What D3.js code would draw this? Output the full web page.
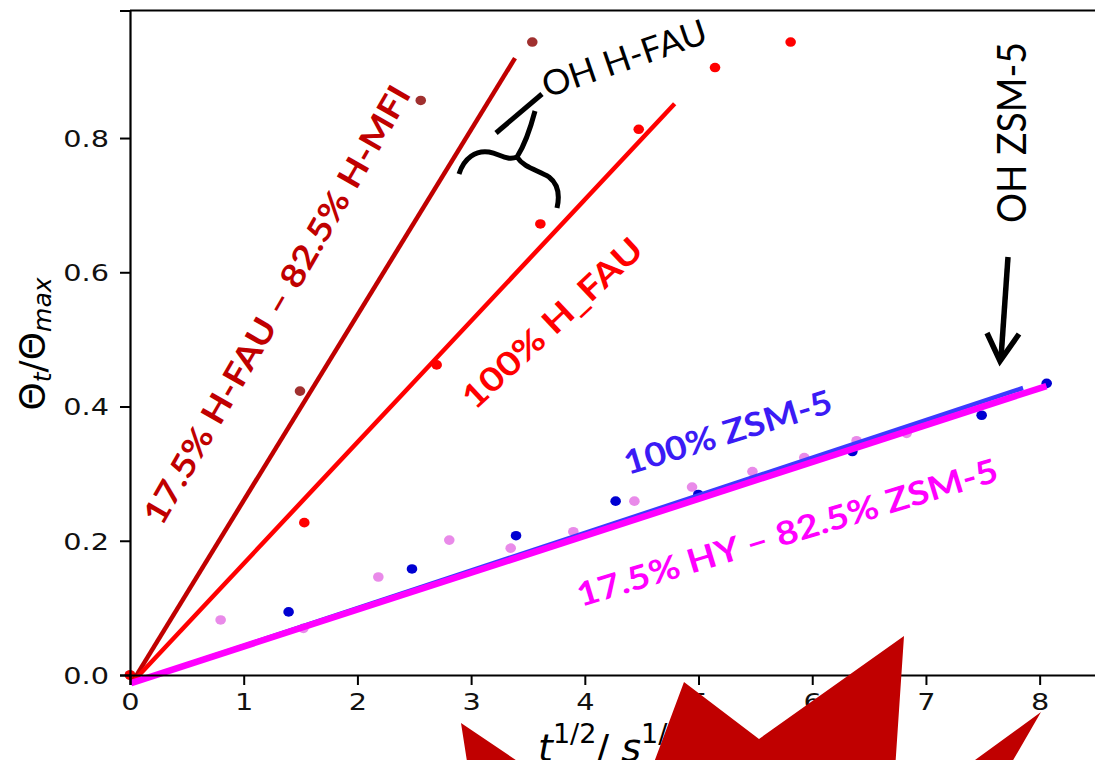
<!DOCTYPE html>
<html>
<head>
<meta charset="utf-8">
<script src="https://cdn.jsdelivr.net/npm/d3@7"></script>
<style>
  body { margin: 0; background: #fff; }
  svg { display: block; }
</style>
</head>
<body>
<svg id="chart" width="1095" height="760"></svg>
<script>
// ---- data ----
var xTicks = [0, 1, 2, 3, 4, 5, 6, 7, 8];
var yTicks = [0, 0.2, 0.4, 0.6, 0.8];

// 17.5% H-FAU - 82.5% H-MFI
var mixFauT     = [0, 1.495, 2.557, 3.538];
var mixFauTheta = [0, 0.423, 0.856, 0.943];
// 100% H-FAU
var hFauT     = [0, 1.533, 2.697, 3.609, 4.474, 5.145, 5.81];
var hFauTheta = [0, 0.227, 0.462, 0.672, 0.813, 0.905, 0.943];
// 100% ZSM-5
var zsmT     = [1.395, 2.48, 3.395, 4.271, 4.998, 6.353, 7.49, 8.062];
var zsmTheta = [0.094, 0.158, 0.2075, 0.259, 0.269, 0.333, 0.387, 0.4345];
// 17.5% HY - 82.5% ZSM-5
var mixZsmT     = [0.797, 1.525, 2.184, 2.808, 3.348, 3.899, 4.436, 4.943, 5.474, 5.93, 6.39, 6.83];
var mixZsmTheta = [0.082, 0.0695, 0.146, 0.201, 0.189, 0.2135, 0.259, 0.28, 0.303, 0.324, 0.349, 0.36];

// straight fits, [t, theta] at both ends
var mixFauFit = [[0.015, -0.012], [3.386, 0.919]];
var hFauFit   = [[0.015, -0.012], [4.79, 0.851]];
var zsmFit    = [[0.01, -0.012], [7.854, 0.4276]];
var mixZsmFit = [[0.01, -0.012], [8.06, 0.4305]];

function pairs(t, v) { return t.map(function(d, i) { return [d, v[i]]; }); }

var svg = d3.select("#chart");

var x = d3.scaleLinear().domain([0, 8.5]).range([130, 1096.5]);
var y = d3.scaleLinear().domain([0, 0.99]).range([675, 10.5]);

var plot = svg.append("g");

// scatter points (drawn under the fit lines)
var pointSets = [
    {pts: pairs(mixFauT, mixFauTheta), color: "#a0302f"},
    {pts: pairs(hFauT, hFauTheta), color: "#ff0000"},
    {pts: pairs(mixZsmT, mixZsmTheta), color: "#e98ae9"},
    {pts: pairs(zsmT, zsmTheta), color: "#0000d2"}
];
pointSets.forEach(function(s) {
    plot.append("g").selectAll("ellipse").data(s.pts)
        .enter().append("ellipse")
        .attr("cx", function(d) { return x(d[0]); })
        .attr("cy", function(d) { return y(d[1]); })
        .attr("rx", 5.3).attr("ry", 4.8)
        .attr("fill", s.color);
});

var line = d3.line().x(function(d) { return x(d[0]); }).y(function(d) { return y(d[1]); });
var fits = [
    {d: mixFauFit, color: "#c00000", w: 4.5},
    {d: hFauFit, color: "#ff0000", w: 4.5},
    {d: zsmFit, color: "#3b3bff", w: 4.5},
    {d: mixZsmFit, color: "#ff00ff", w: 6.5}
];
fits.forEach(function(f) {
    plot.append("path").attr("d", line(f.d))
        .attr("fill", "none").attr("stroke", f.color)
        .attr("stroke-width", f.w);
});

// series labels, placed along their lines
var labels = [
    {text: "17.5% H-FAU \u2013 82.5% H-MFI", color: "#c00000", px: 162, py: 527, a: -60, len: 500},
    {text: "100% H_FAU", color: "#ff0000", px: 475, py: 411, a: -43, len: 233},
    {text: "100% ZSM-5", color: "#3b1bf5", px: 628, py: 475, a: -17, len: 216},
    {text: "17.5% HY \u2013 82.5% ZSM-5", color: "#ff00ff", px: 581, py: 607, a: -16.8, len: 438}
];
labels.forEach(function(l) {
    svg.append("text")
        .attr("transform", "translate(" + l.px + "," + l.py + ") rotate(" + l.a + ")")
        .attr("font-family", "Lato, 'Open Sans', sans-serif")
        .attr("font-weight", "bold")
        .attr("font-size", 33)
        .attr("fill", l.color)
        .attr("textLength", l.len)
        .attr("lengthAdjust", "spacingAndGlyphs")
        .text(l.text);
});

// axes
var xAxis = svg.append("g").attr("transform", "translate(0,675)")
    .call(d3.axisBottom(x).tickValues(xTicks).tickSize(10).tickFormat(d3.format("d")));
var yAxis = svg.append("g").attr("transform", "translate(130,0)")
    .call(d3.axisLeft(y).tickValues(yTicks).tickSize(10).tickFormat(d3.format(".1f")));

[xAxis, yAxis].forEach(function(g) {
    g.select(".domain").attr("stroke", "#000").attr("stroke-width", 2.2);
    g.selectAll(".tick line").attr("stroke", "#000").attr("stroke-width", 2);
    g.selectAll(".tick text")
        .attr("font-family", "'DejaVu Sans', sans-serif")
        .attr("font-size", 23)
        .attr("fill", "#111");
});
xAxis.selectAll(".tick text").attr("y", 0).attr("dy", 0)
    .attr("transform", "translate(0,35) scale(1.25,1)");
yAxis.selectAll(".tick text").attr("x", 0).attr("dy", "0.36em")
    .attr("transform", "translate(-21,0) scale(1.25,1)");

// top spine
svg.append("line")
    .attr("x1", x(0)).attr("x2", 1095)
    .attr("y1", y(0.99)).attr("y2", y(0.99))
    .attr("stroke", "#000").attr("stroke-width", 2.2);

// y label
var yl = svg.append("text")
    .attr("transform", "translate(45,344) rotate(-90)")
    .attr("text-anchor", "middle")
    .attr("font-family", "'DejaVu Sans', sans-serif")
    .attr("font-size", 36)
    .attr("fill", "#000");
yl.append("tspan").text("\u0398");
yl.append("tspan").attr("font-style", "italic").attr("font-size", 25).attr("dy", 6).text("t");
yl.append("tspan").attr("dy", -6).text("/\u0398");
yl.append("tspan").attr("font-style", "italic").attr("font-size", 25).attr("dy", 6).text("max");

// x label
var xl = svg.append("text")
    .attr("x", 538).attr("y", 761)
    .attr("font-family", "'DejaVu Sans', sans-serif")
    .attr("font-size", 38)
    .attr("fill", "#000");
xl.append("tspan").attr("font-style", "italic").text("t");
xl.append("tspan").attr("font-size", 27).attr("dy", -18).text("1/2");
xl.append("tspan").attr("dy", 18).text("/ ");
xl.append("tspan").attr("font-style", "italic").text("s");
xl.append("tspan").attr("font-size", 27).attr("dy", -18).text("1/2");

// OH H-FAU annotation with brace
var ann = svg.append("g").attr("fill", "none").attr("stroke", "#000")
    .attr("stroke-width", 5).attr("stroke-linecap", "butt");
ann.append("line").attr("x1", 496).attr("y1", 133).attr("x2", 542).attr("y2", 94);
ann.append("path").attr("d",
    "M459,174 C464,158 476,150 489,152 C500,154 507,161 517,157" +
    " M517,157 C524,146 530,130 535,111" +
    " M517,157 C524,168 538,170 549,177 C558,184 560,195 557,208");
svg.append("text")
    .attr("transform", "translate(547,98) rotate(-19)")
    .attr("font-family", "Lato, 'Open Sans', sans-serif")
    .attr("font-size", 35)
    .attr("fill", "#000")
    .attr("textLength", 172)
    .attr("lengthAdjust", "spacingAndGlyphs")
    .text("OH H-FAU");

// OH ZSM-5 annotation with arrow
svg.append("text")
    .attr("transform", "translate(1026,223) rotate(-90)")
    .attr("font-family", "Lato, 'Open Sans', sans-serif")
    .attr("font-size", 41)
    .attr("fill", "#000")
    .attr("textLength", 181)
    .attr("lengthAdjust", "spacingAndGlyphs")
    .text("OH ZSM-5");
var arr = svg.append("g").attr("fill", "none").attr("stroke", "#000").attr("stroke-width", 5.5);
arr.append("line").attr("x1", 1008).attr("y1", 257).attr("x2", 1001).attr("y2", 358);
arr.append("polyline").attr("points", "987,333 1000,361 1019,334");

// red burst over the bottom edge
svg.append("polygon")
    .attr("points", "473,800 461,723 575,800 640,800 684,682 759,739 904,636 893,800 920,800 1041,712 990,800")
    .attr("fill", "#c00000");
</script>
</body>
</html>
